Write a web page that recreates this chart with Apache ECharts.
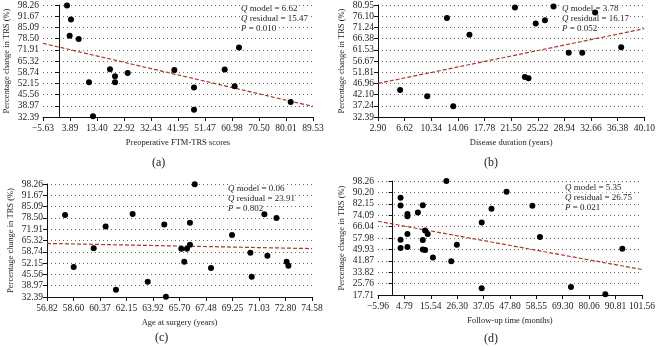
<!DOCTYPE html>
<html>
<head>
<meta charset="utf-8">
<script src="https://cdn.jsdelivr.net/npm/echarts@6/dist/echarts.min.js"></script>
<style>
    html, body {margin: 0; padding: 0; background: #fff;}
    #chart {width: 658px; height: 347px;}
</style>
</head>
<body>
<div id="chart"></div>
<script>
// (a) preoperative FTM-TRS scores
var ticksXA = [-5.63, 3.89, 13.40, 22.92, 32.43, 41.95, 51.47, 60.98, 70.50, 80.01, 89.53];
var ticksYA = [32.39, 38.97, 45.56, 52.15, 58.74, 65.32, 71.91, 78.50, 85.09, 91.67, 98.26];
var scoreA = [2.83, 4.24, 3.77, 6.94, 10.58, 11.99, 17.98, 19.75, 19.75, 24.21, 40.66, 47.59, 47.59, 58.4, 61.9, 63.45, 81.66];
var changeA = [97.9, 89.8, 80.2, 78.23, 52.8, 32.8, 60.5, 56.3, 52.8, 58.2, 60.1, 49.7, 36.6, 60.3, 50.5, 73.2, 41.25];
var fitA = [[-5.63, 75.7], [89.53, 38.6]];

// (b) disease duration
var ticksXB = [2.90, 6.62, 10.34, 14.06, 17.78, 21.50, 25.22, 28.94, 32.66, 36.38, 40.10];
var ticksYB = [32.39, 37.24, 42.10, 46.96, 51.81, 56.67, 61.53, 66.38, 71.24, 76.10, 80.95];
var durationB = [5.99, 9.77, 12.53, 13.41, 15.67, 22.03, 23.41, 23.92, 24.93, 26.22, 27.42, 29.54, 31.43, 33.23, 36.87];
var changeB = [44.15, 41.35, 75.35, 37.0, 68.1, 79.83, 49.74, 49.2, 72.97, 74.37, 80.25, 60.24, 60.24, 77.7, 62.62];
var fitB = [[2.90, 46.95], [40.10, 70.7]];

// (c) age at surgery
var ticksXC = [56.82, 58.60, 60.37, 62.15, 63.92, 65.70, 67.48, 69.25, 71.03, 72.80, 74.58];
var ticksYC = [32.39, 38.97, 45.56, 52.15, 58.74, 65.32, 71.91, 78.50, 85.09, 91.67, 98.26];
var ageC = [58.03, 58.61, 59.95, 60.75, 61.44, 62.56, 63.57, 64.68, 64.79, 65.82, 66.02, 66.2, 66.4, 66.4, 66.72, 67.81, 69.22, 70.45, 70.54, 71.39, 71.59, 72.2, 72.88, 73.0];
var changeC = [80.24, 49.83, 60.87, 73.46, 36.65, 80.82, 41.3, 74.6, 32.6, 60.48, 52.93, 60.48, 75.6, 62.8, 98.07, 49.26, 68.6, 58.14, 44.2, 80.6, 56.4, 78.5, 52.93, 50.6];
var fitC = [[56.82, 63.6], [74.58, 60.6]];

// (d) follow-up time
var ticksXD = [-5.96, 4.79, 15.54, 26.30, 37.05, 47.80, 58.55, 69.30, 80.06, 90.81, 101.56];
var ticksYD = [17.71, 25.76, 33.82, 41.87, 49.93, 57.98, 66.04, 74.09, 82.15, 90.20, 98.26];
var followD = [3.23, 3.23, 3.23, 3.23, 6.03, 6.03, 6.03, 6.03, 10.29, 12.29, 12.29, 12.29, 13.23, 13.23, 14.29, 16.42, 21.89, 23.89, 26.15, 36.28, 36.28, 40.27, 46.4, 56.93, 60.0, 72.65, 86.64, 93.57];
var changeD = [86.41, 80.97, 56.8, 50.88, 75.0, 73.4, 60.83, 51.6, 75.99, 81.2, 56.56, 49.93, 49.46, 63.2, 60.83, 44.24, 98.26, 41.64, 53.25, 68.9, 22.45, 78.6, 90.68, 80.73, 58.7, 23.4, 18.2, 50.4];
var fitD = [[-5.96, 69.8], [101.56, 35.7]];

var statsText = [
    ['6.62', '15.47', '0.010'],
    ['3.78', '16.17', '0.052'],
    ['0.06', '23.91', '0.802'],
    ['5.35', '26.75', '0.021']
];
var xNames = ['Preoperative FTM-TRS scores', 'Disease duration (years)', 'Age at surgery (years)', 'Follow-up time (months)'];
var captions = ['(a)', '(b)', '(c)', '(d)'];

var FONT = 'Liberation Serif';
var panels = [
    {grid: {left: 43, top: 3, width: 270, height: 114}, xt: ticksXA, yt: ticksYA, x: scoreA, y: changeA, fit: fitA, stats: [241, 4], cap: [160, 164]},
    {grid: {left: 378, top: 2, width: 269, height: 115}, xt: ticksXB, yt: ticksYB, x: durationB, y: changeB, fit: fitB, stats: [562, 4], cap: [492, 164]},
    {grid: {left: 47, top: 184, width: 265, height: 113}, xt: ticksXC, yt: ticksYC, x: ageC, y: changeC, fit: fitC, stats: [228, 184], cap: [163, 339]},
    {grid: {left: 378, top: 181, width: 269, height: 114}, xt: ticksXD, yt: ticksYD, x: followD, y: changeD, fit: fitD, stats: [565, 183], cap: [492, 340]}
];

function fmt(v) {
    return v.toFixed(2).replace('-', '\u2212');
}

function pairs(xs, ys) {
    var out = [];
    for (var i = 0; i < xs.length; i++) {
        out.push([xs[i], ys[i]]);
    }
    return out;
}

var txt = {fontFamily: FONT, fontSize: 9, lineHeight: 9.8, fill: '#222', backgroundColor: '#fff'};
var richStats = {
    i: echarts.util.extend({fontStyle: 'italic'}, txt),
    n: echarts.util.extend({}, txt)
};

var option = {
    animation: false,
    textStyle: {fontFamily: FONT},
    grid: [], xAxis: [], yAxis: [], series: [], graphic: []
};

panels.forEach(function (p, i) {
    option.grid.push(p.grid);
    option.xAxis.push({
        type: 'value', gridIndex: i,
        min: p.xt[0], max: p.xt[p.xt.length - 1],
        name: xNames[i], nameLocation: 'middle', nameGap: 21,
        nameTextStyle: {fontFamily: FONT, fontSize: 8.5, color: '#222'},
        axisLine: {lineStyle: {color: '#111', width: 1}},
        axisTick: {length: 4, lineStyle: {color: '#111'}, customValues: p.xt},
        axisLabel: {customValues: p.xt, formatter: fmt, margin: 6, fontSize: 9.5, color: '#222', fontFamily: FONT, hideOverlap: false},
        splitLine: {show: false}
    });
    option.yAxis.push({
        type: 'value', gridIndex: i,
        min: p.yt[0], max: p.yt[p.yt.length - 1],
        name: 'Percentage change in TRS (%)', nameLocation: 'middle', nameGap: 32,
        nameTextStyle: {fontFamily: FONT, fontSize: 8.5, color: '#222'},
        axisLine: {show: true, lineStyle: {color: '#111', width: 1}},
        axisTick: {show: true, length: 4, lineStyle: {color: '#111'}, customValues: p.yt},
        axisLabel: {customValues: p.yt, formatter: fmt, margin: 4, fontSize: 9.5, color: '#222', fontFamily: FONT, hideOverlap: false},
        splitLine: {show: true, lineStyle: {color: '#666', width: 1, type: [1, 3]}}
    });
    option.series.push({
        type: 'line', xAxisIndex: i, yAxisIndex: i,
        data: p.fit, showSymbol: false, silent: true, z: 1,
        lineStyle: {color: '#ad352c', width: 1.2, type: [4, 2]}
    });
    option.series.push({
        type: 'scatter', xAxisIndex: i, yAxisIndex: i,
        data: pairs(p.x, p.y), symbolSize: 6, z: 6,
        itemStyle: {color: '#000', opacity: 1}
    });
    var s = statsText[i];
    option.graphic.push({
        type: 'text', left: p.stats[0], top: p.stats[1], z: 5,
        style: {
            text: '{i|Q}{n| model = ' + s[0] + '}\n{i|Q}{n| residual = ' + s[1] + '}\n{i|P}{n| = ' + s[2] + '}',
            fontFamily: FONT, fontSize: 9, lineHeight: 9.8, fill: '#222',
            rich: richStats
        }
    });
    option.graphic.push({
        type: 'text', left: p.cap[0] - 8, top: p.cap[1] - 7,
        style: {text: captions[i], fontFamily: FONT, fontSize: 12, fill: '#222'}
    });
});

var myChart = echarts.init(document.getElementById('chart'));
myChart.setOption(option);
</script>
</body>
</html>
